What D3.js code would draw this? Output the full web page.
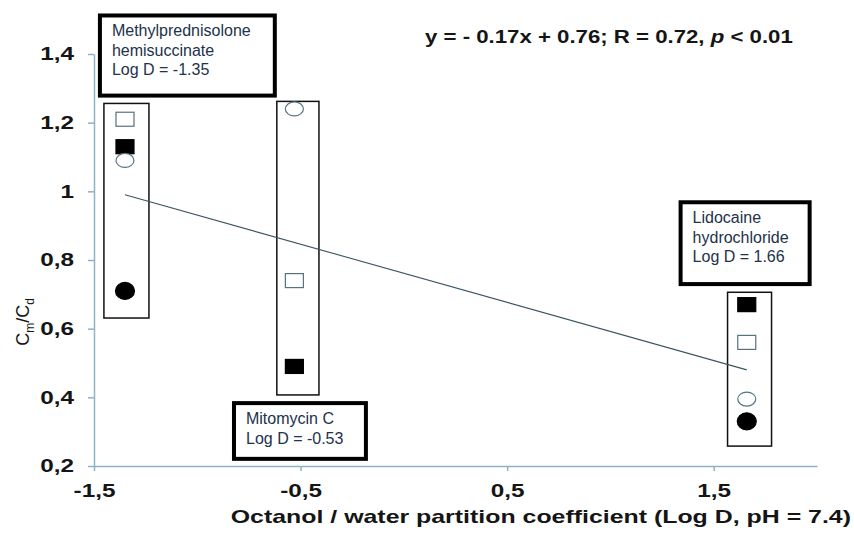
<!DOCTYPE html>
<html>
<head>
<meta charset="utf-8">
<script src="https://cdn.jsdelivr.net/npm/d3@7"></script>
<style>
  body { margin: 0; background: #fff; }
  text { font-family: "Liberation Sans", Arial, sans-serif; }
</style>
</head>
<body>
<div id="chart"></div>
<script>
const width_chart = 854;
const height_chart = 534;

// one entry per drug, x = Log D
const drugs = ["Methylprednisolone hemisuccinate", "Mitomycin C", "Lidocaine hydrochloride"];
const logD = [-1.35, -0.53, 1.66];

// Cm/Cd for each marker type (null = not shown)
const openSquare = [1.21, 0.74, 0.56];
const filledSquare = [1.13, 0.49, 0.67];
const openCircle = [1.09, 1.24, 0.395];
const filledCircle = [0.71, null, 0.33];

// regression line end points
const trendX = [-1.35, 1.66];
const trendY = [0.99, 0.48];

const xTicks = [-1.5, -0.5, 0.5, 1.5];
const yTicks = [0.2, 0.4, 0.6, 0.8, 1, 1.2, 1.4];

// label boxes, in data units
const labelLines = [
    ["Methylprednisolone", "hemisuccinate", "Log D = -1.35"],
    ["Mitomycin C", "Log D = -0.53"],
    ["Lidocaine", "hydrochloride", "Log D = 1.66"]
];
const labelX0 = [-1.481, -0.832, 1.330];
const labelX1 = [-0.615, -0.174, 1.974];
const labelYTop = [1.518, 0.389, 0.974];
const labelYBot = [1.273, 0.215, 0.724];

// thin frames around each drug's points
const frameX0 = [-1.452, -0.615, 1.567];
const frameX1 = [-1.234, -0.411, 1.780];
const frameYTop = [1.256, 1.262, 0.706];
const frameYBot = [0.631, 0.407, 0.258];

const svg = d3.select("#chart").append("svg")
    .attr("width", width_chart)
    .attr("height", height_chart)

let x = d3.scaleLinear().domain([-1.5, 2]).range([94, 817])
let y = d3.scaleLinear().domain([0.2, 1.4]).range([466, 54])

const fmt = d => String(d).replace(".", ",")

// stretch a text horizontally, the source figure is wider than plain Arial
function stretch(sel, k) {
    sel.each(function () {
        const w = this.getComputedTextLength()
        d3.select(this).attr("textLength", w * k).attr("lengthAdjust", "spacingAndGlyphs")
    })
}

// axes
let yAxis = svg.append("g")
    .attr("transform", "translate(94,0)")
    .call(d3.axisLeft(y).tickValues(yTicks).tickFormat(fmt).tickSize(6).tickPadding(14).tickSizeOuter(0))

let xAxis = svg.append("g")
    .attr("transform", "translate(0,466)")
    .call(d3.axisBottom(x).tickValues(xTicks).tickFormat(fmt).tickSize(5).tickPadding(13).tickSizeOuter(0))

svg.selectAll(".domain, .tick line")
    .attr("stroke", "#8fb2c4")
    .attr("stroke-width", 1.5)

svg.selectAll(".tick text")
    .attr("font-family", null)
    .attr("fill", "#151515")
    .style("font-size", "18px")
    .style("font-weight", "bold")
    .call(stretch, 1.35)

// frames
svg.append("g").selectAll("rect")
    .data(drugs)
    .enter()
    .append("rect")
    .attr("x", (d, i) => x(frameX0[i]))
    .attr("y", (d, i) => y(frameYTop[i]))
    .attr("width", (d, i) => x(frameX1[i]) - x(frameX0[i]))
    .attr("height", (d, i) => y(frameYBot[i]) - y(frameYTop[i]))
    .attr("fill", "none")
    .attr("stroke", "#111")
    .attr("stroke-width", 1.5)

// regression line
svg.append("path")
    .datum(trendX.map((v, i) => [v, trendY[i]]))
    .attr("d", d3.line().x(d => x(d[0])).y(d => y(d[1])))
    .attr("fill", "none")
    .attr("stroke", "#3b5563")
    .attr("stroke-width", 1.1)

// markers
const series = [
    { values: openSquare, shape: "square", filled: false },
    { values: filledSquare, shape: "square", filled: true },
    { values: openCircle, shape: "circle", filled: false },
    { values: filledCircle, shape: "circle", filled: true }
]

series.forEach(s => {
    let pts = logD.map((v, i) => ({ x: v, y: s.values[i] })).filter(d => d.y != null)
    let g = svg.append("g")
    if (s.shape === "square") {
        g.selectAll("rect")
            .data(pts)
            .enter()
            .append("rect")
            .attr("x", d => x(d.x) - 9)
            .attr("y", d => y(d.y) - 7)
            .attr("width", 18)
            .attr("height", 14)
            .attr("fill", s.filled ? "#000" : "#fff")
            .attr("stroke", s.filled ? "#000" : "#55727f")
            .attr("stroke-width", 1.2)
    } else {
        g.selectAll("ellipse")
            .data(pts)
            .enter()
            .append("ellipse")
            .attr("cx", d => x(d.x))
            .attr("cy", d => y(d.y))
            .attr("rx", s.filled ? 9.5 : 9)
            .attr("ry", s.filled ? 8.5 : 7)
            .attr("fill", s.filled ? "#000" : "#fff")
            .attr("stroke", s.filled ? "#000" : "#55727f")
            .attr("stroke-width", 1.2)
    }
})

// label boxes
let boxes = svg.append("g").selectAll("g")
    .data(labelLines)
    .enter()
    .append("g")

boxes.append("rect")
    .attr("x", (d, i) => x(labelX0[i]) + 2)
    .attr("y", (d, i) => y(labelYTop[i]) + 2)
    .attr("width", (d, i) => x(labelX1[i]) - x(labelX0[i]) - 4)
    .attr("height", (d, i) => y(labelYBot[i]) - y(labelYTop[i]) - 4)
    .attr("fill", "#fff")
    .attr("stroke", "#000")
    .attr("stroke-width", 4)

boxes.each(function (lines, i) {
    let t = d3.select(this).append("text")
        .attr("x", x(labelX0[i]) + 14)
        .attr("y", y(labelYTop[i]) + 23)
        .attr("fill", "#22324a")
        .style("font-size", "16px")
    t.selectAll("tspan")
        .data(lines)
        .enter()
        .append("tspan")
        .attr("x", x(labelX0[i]) + 14)
        .attr("dy", (d, j) => j === 0 ? 0 : 19.5)
        .text(d => d)
})

// regression equation
let eq = svg.append("text")
    .attr("x", 425)
    .attr("y", 43)
    .attr("fill", "#151515")
    .style("font-size", "18.5px")
    .style("font-weight", "bold")
eq.append("tspan").text("y = - 0.17x + 0.76; R = 0.72, ")
eq.append("tspan").style("font-style", "italic").text("p")
eq.append("tspan").text(" < 0.01")
eq.call(stretch, 1.2)

// axis titles
svg.append("text")
    .attr("x", 851)
    .attr("y", 523)
    .attr("text-anchor", "end")
    .attr("fill", "#151515")
    .style("font-size", "19px")
    .style("font-weight", "bold")
    .text("Octanol / water partition coefficient (Log D, pH = 7.4)")
    .call(stretch, 1.31)

let yTitle = svg.append("text")
    .attr("transform", "translate(29,322)rotate(-90)")
    .attr("text-anchor", "middle")
    .attr("fill", "#151515")
    .style("font-size", "18px")
yTitle.append("tspan").text("C")
yTitle.append("tspan").attr("dy", 5).style("font-size", "12px").text("m")
yTitle.append("tspan").attr("dy", -5).text("/C")
yTitle.append("tspan").attr("dy", 5).style("font-size", "12px").text("d")
</script>
</body>
</html>
